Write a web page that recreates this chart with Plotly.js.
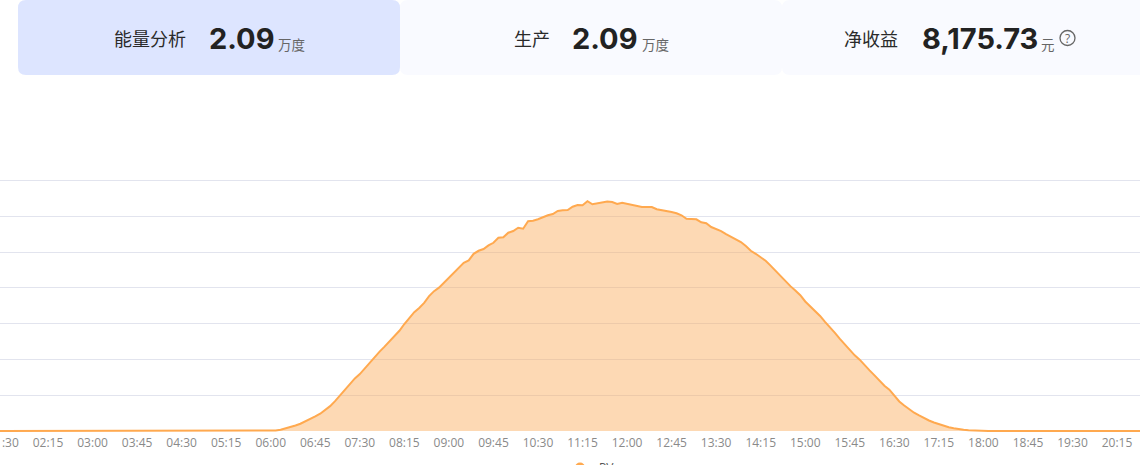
<!DOCTYPE html>
<html>
<head>
<meta charset="utf-8">
<script src="https://cdn.plot.ly/plotly-3.0.1.min.js"></script>
<style>html,body{margin:0;padding:0;background:#fff;overflow:hidden}#chart{width:1140px;height:465px}</style>
</head>
<body>
<div id="chart"></div>
<script>
const seriesName = "PV";
const tickLabels = ["01:30","02:15","03:00","03:45","04:30","05:15","06:00","06:45","07:30","08:15","09:00","09:45","10:30","11:15","12:00","12:45","13:30","14:15","15:00","15:45","16:30","17:15","18:00","18:45","19:30","20:15"];
const times = ["01:00","05:55",
"06:00","06:05","06:10","06:15","06:20","06:25","06:30","06:35","06:40","06:45","06:50","06:55",
"07:00","07:05","07:10","07:15","07:20","07:25","07:30","07:35","07:40","07:45","07:50","07:55",
"08:00","08:05","08:10","08:15","08:20","08:25","08:30","08:35","08:40","08:45","08:50","08:55",
"09:00","09:05","09:10","09:15","09:20","09:25","09:30","09:35","09:40","09:45","09:50","09:55",
"10:00","10:05","10:10","10:15","10:20","10:25","10:30","10:35","10:40","10:45","10:50","10:55",
"11:00","11:05","11:10","11:15","11:20","11:25","11:30","11:35","11:40","11:45","11:50","11:55",
"12:00","12:05","12:10","12:15","12:20","12:25","12:30","12:35","12:40","12:45","12:50","12:55",
"13:00","13:05","13:10","13:15","13:20","13:25","13:30","13:35","13:40","13:45","13:50","13:55",
"14:00","14:05","14:10","14:15","14:20","14:25","14:30","14:35","14:40","14:45","14:50","14:55",
"15:00","15:05","15:10","15:15","15:20","15:25","15:30","15:35","15:40","15:45","15:50","15:55",
"16:00","16:05","16:10","16:15","16:20","16:25","16:30","16:35","16:40","16:45","16:50","16:55",
"17:00","17:05","17:10","17:15","17:20","17:25","17:30","17:35","17:40","17:45","17:50","17:55",
"18:00","18:05","21:00"];
const power = [0,0,
4,7,17,35,53,77,101,133,165,203,241,291,
347,417,497,585,669,735,795,875,950,1029,1109,1179,
1254,1319,1400,1495,1585,1660,1720,1790,1884,1954,2003,2070,
2137,2206,2280,2350,2384,2476,2518,2542,2594,2630,2700,2706,
2770,2794,2840,2826,2930,2938,2958,2990,3014,3032,3074,3084,
3088,3134,3158,3154,3210,3168,3182,3196,3207,3200,3172,3190,
3176,3154,3148,3130,3130,3130,3098,3088,3070,3060,3042,3014,
2966,2962,2958,2916,2902,2850,2826,2794,2752,2714,2682,2640,
2584,2518,2476,2430,2378,2311,2237,2168,2094,2024,1964,1898,
1810,1744,1684,1608,1524,1454,1370,1286,1207,1123,1057,997,
917,847,777,698,633,577,487,413,357,301,255,217,
179,147,119,95,73,53,39,25,17,11,7,4,
4,0,0];
const gridVals = [0,500,1000,1500,2000,2500,3000,3500];

const toMin = s => { const [h,m] = s.split(":").map(Number); return h*60+m; };
const W = 1140, H = 465, plotTop = 179, plotBottom = 432;
const px = x => x / W;
const py = y => (plotBottom - y) / (plotBottom - plotTop);
const rr = (x0,y0,x1,y1,r) => {
  const X = px, Y = py;
  return `M${X(x0+r)},${Y(y0)} L${X(x1-r)},${Y(y0)} Q${X(x1)},${Y(y0)} ${X(x1)},${Y(y0+r)} L${X(x1)},${Y(y1-r)} Q${X(x1)},${Y(y1)} ${X(x1-r)},${Y(y1)} L${X(x0+r)},${Y(y1)} Q${X(x0)},${Y(y1)} ${X(x0)},${Y(y1-r)} L${X(x0)},${Y(y0+r)} Q${X(x0)},${Y(y0)} ${X(x0+r)},${Y(y0)} Z`;
};
const cjk = '"Noto Sans CJK SC","Noto Sans",sans-serif';
const txt = (text,x,y,size,color,family,weight,anchor) => ({
  text, x:px(x), y:py(y), xref:"paper", yref:"paper", showarrow:false,
  xanchor:anchor||"left", yanchor:"middle", borderpad:0,
  font:{size,color,family,weight:weight||400}
});

const trace = {
  x: times.map(toMin), y: power, name: seriesName, type:"scatter", mode:"lines",
  line:{color:"#ffa94f",width:2,shape:"linear"},
  fill:"tozeroy", fillcolor:"rgba(250,168,85,0.44)",
  text: times, hovertemplate:"%{text}<br>%{y}<extra>"+seriesName+"</extra>"
};

const layout = {
  width:W, height:H, autosize:false,
  margin:{l:0,r:0,t:plotTop,b:H-plotBottom,pad:0},
  paper_bgcolor:"#ffffff", plot_bgcolor:"#ffffff", showlegend:false,
  xaxis:{type:"linear",range:[86.5,1238.2],tickmode:"array",
    tickvals:tickLabels.map(toMin),ticktext:tickLabels,ticks:"",showgrid:false,
    zeroline:false,showline:false,ticklen:0,ticklabelstandoff:2,ticklabeloverflow:"allow",
    tickfont:{family:'"Open Sans",sans-serif',size:12,color:"#8a8a8a"}},
  yaxis:{range:[-14,3521],tickmode:"array",tickvals:gridVals,showticklabels:false,
    showgrid:true,gridcolor:"#e2e4ee",gridwidth:1,zeroline:false,showline:false,ticks:""},
  shapes:[
    {type:"path",xref:"paper",yref:"paper",path:rr(400,0,782,75,8),fillcolor:"#f9faff",line:{width:0},layer:"below"},
    {type:"path",xref:"paper",yref:"paper",path:rr(782,0,1160,75,8),fillcolor:"#f9faff",line:{width:0},layer:"below"},
    {type:"path",xref:"paper",yref:"paper",path:rr(18,0,400,75,8),fillcolor:"#dde5ff",line:{width:0},layer:"below"},
    {type:"circle",xref:"paper",yref:"paper",x0:px(1060),x1:px(1075),y0:py(30.5),y1:py(45.5),fillcolor:"rgba(0,0,0,0)",line:{color:"#666",width:1.3}},
    {type:"circle",xref:"paper",yref:"paper",x0:px(575),x1:px(585),y0:py(462.5),y1:py(472.5),fillcolor:"#ffa94f",line:{width:0}}
  ],
  annotations:[
    txt("能量分析",113,38,18,"#2a2a2a",cjk),
    txt("2.09",207.5,38,29,"#222",'Inter,sans-serif',700),
    txt("万度",276.5,44,13.5,"#666",cjk),
    txt("生产",513,38,18,"#2a2a2a",cjk),
    txt("2.09",571.5,38,29,"#222",'Inter,sans-serif',700),
    txt("万度",640.5,44,13.5,"#666",cjk),
    txt("净收益",843,38,18,"#2a2a2a",cjk),
    txt("8,175.73",921,38,29,"#222",'Inter,sans-serif',700),
    txt("元",1040,44,13.5,"#666",cjk),
    txt("?",1067.5,38,12,"#666",'"Open Sans",sans-serif',400,"center"),
    txt(seriesName,598,467,12,"#555",'"Open Sans",sans-serif')
  ]
};
Plotly.newPlot("chart",[trace],layout,{displayModeBar:false});
</script>
</body>
</html>
